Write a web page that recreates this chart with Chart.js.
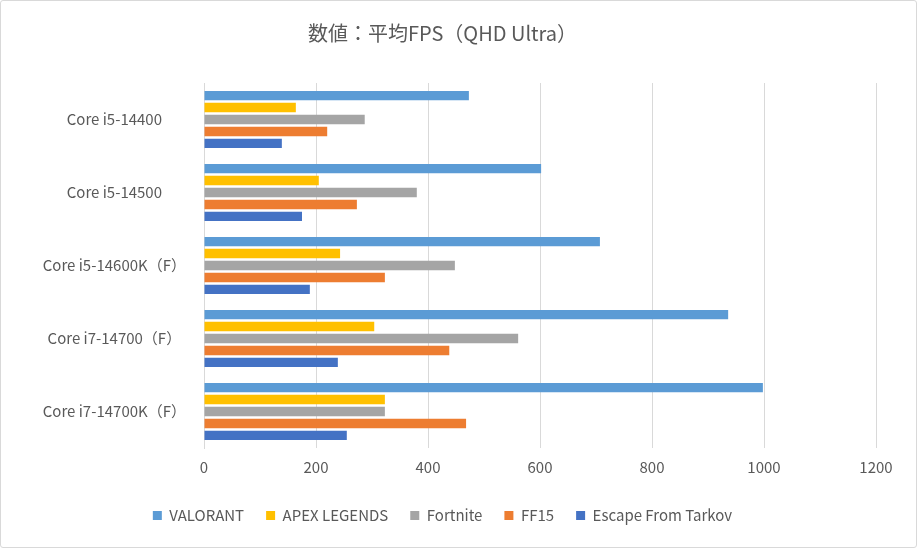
<!DOCTYPE html>
<html>
<head>
<meta charset="utf-8">
<script src="https://cdn.jsdelivr.net/npm/chart.js@4"></script>
<style>
  body { margin: 0; background: #fff; }
  #wrap { position: absolute; left: 0; top: 0; width: 915px; height: 546px; border: 1px solid #d9d9d9; border-radius: 3px; }
</style>
</head>
<body>
<div id="wrap"><canvas id="chart"></canvas></div>
<script>
const cpus = ['Core i5-14400', 'Core i5-14500', 'Core i5-14600K（F）', 'Core i7-14700（F）', 'Core i7-14700K（F）'];
const valorant = [473, 602, 707, 936, 998];
const apex = [164, 205, 243, 304, 323];
const fortnite = [287, 380, 448, 561, 323];
const ff15 = [220, 273, 323, 438, 468];
const tarkov = [139, 175, 189, 239, 255];

const font = "'Noto Sans CJK JP', 'Noto Sans', sans-serif";

function ds(label, data, color) {
    return { label: label, data: data, backgroundColor: color, categoryPercentage: 0.82, barPercentage: 0.78 };
}

new Chart(document.getElementById('chart'), {
    type: 'bar',
    data: {
        labels: cpus,
        datasets: [
            ds('VALORANT', valorant, '#5B9BD5'),
            ds('APEX LEGENDS', apex, '#FFC000'),
            ds('Fortnite', fortnite, '#A5A5A5'),
            ds('FF15', ff15, '#ED7D31'),
            ds('Escape From Tarkov', tarkov, '#4472C4')
        ]
    },
    options: {
        indexAxis: 'y',
        responsive: true,
        maintainAspectRatio: false,
        animation: false,
        layout: { padding: { left: 8, right: 40, top: 10, bottom: 14 } },
        plugins: {
            title: {
                display: true,
                text: '数値：平均FPS（QHD Ultra）',
                color: '#595959',
                font: { family: font, size: 20, weight: 'normal' },
                padding: { top: 10, bottom: 38 }
            },
            legend: {
                position: 'bottom',
                labels: {
                    color: '#595959',
                    font: { family: font, size: 15 },
                    boxWidth: 9, boxHeight: 9, padding: 22
                }
            },
            tooltip: { enabled: false }
        },
        scales: {
            x: {
                min: 0, max: 1200,
                ticks: { stepSize: 200, color: '#595959', font: { family: font, size: 15 }, padding: 10,
                    callback: v => String(v) },
                grid: { color: '#d9d9d9', drawTicks: false },
                border: { display: false }
            },
            y: {
                afterFit: s => { s.width = 195; },
                ticks: { color: '#595959', font: { family: font, size: 15 }, crossAlign: 'center', padding: 10 },
                grid: { display: false },
                border: { color: '#d9d9d9' }
            }
        }
    }
});
</script>
</body>
</html>
